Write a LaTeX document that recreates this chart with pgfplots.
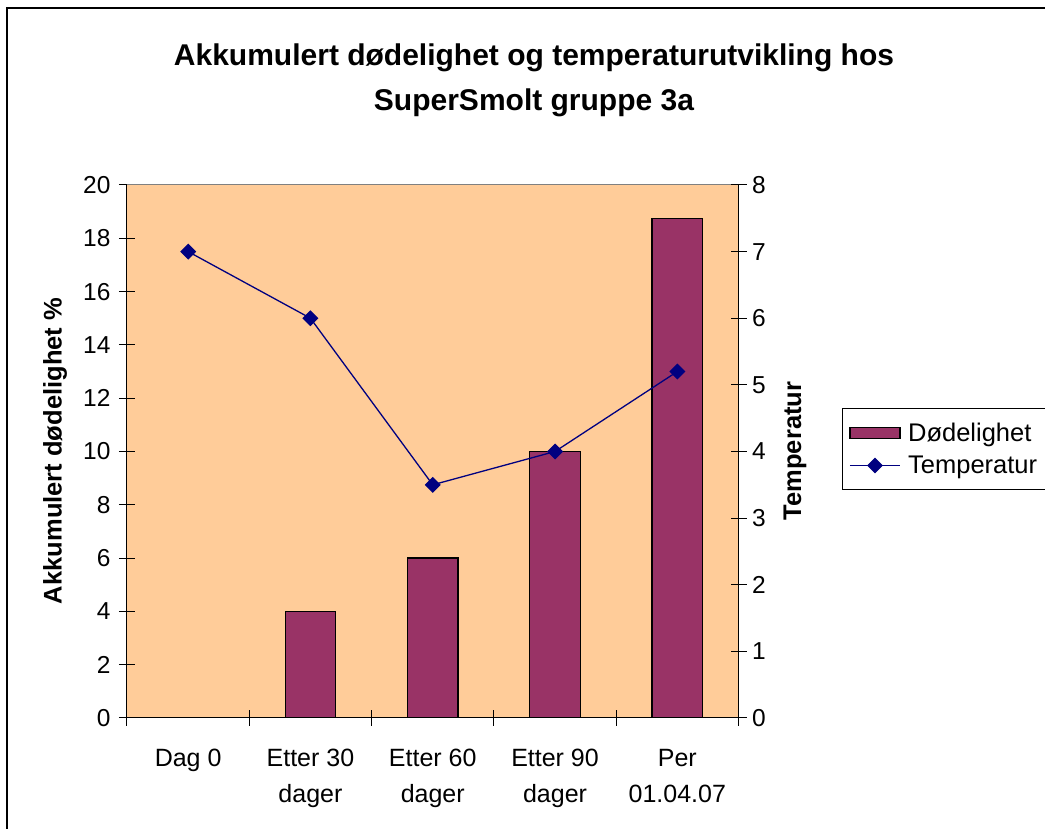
\documentclass[border=0pt]{standalone}
\usepackage{pgfplots}
\pgfplotsset{compat=1.18}
\usepackage{fontspec}
\setmainfont{Liberation Sans}
\definecolor{plotbg}{HTML}{FFCC99}
\definecolor{barc}{HTML}{993366}
\definecolor{linec}{HTML}{000080}
\pgfplotsset{
 barlegend/.style={legend image code/.code={\draw[##1] (0pt,-5.5pt) rectangle (50pt,5.5pt);}},
 linelegend/.style={legend image code/.code={\draw[mark repeat=2,mark phase=2,##1] plot coordinates {(0pt,0pt)(25pt,0pt)(50pt,0pt)};}},
}
\begin{document}
\begin{tikzpicture}
\useasboundingbox (-127pt,-111pt) rectangle (918pt,718pt);
\draw[line width=1.5pt] (-120pt,-130pt) -- (-120pt,710pt) -- (930pt,710pt);
\begin{axis}[
 scale only axis, width=611.5pt, height=533pt,
 xmin=-0.5, xmax=4.5, ymin=0, ymax=20,
 axis x line*=bottom, axis y line*=left,
 axis line style={black, line width=1pt},
 axis background/.style={fill=plotbg},
 xtick={0,1,2,3,4},
 xticklabels={Dag 0,{Etter 30\\dager},{Etter 60\\dager},{Etter 90\\dager},{Per\\01.04.07}},
 major x tick style={draw=none},
 minor xtick={-0.5,0.5,1.5,2.5,3.5,4.5},
 minor tick length=16pt, major tick length=16pt,
 tick align=center,
 ytick={0,2,...,20},
 tick style={black, line width=1pt},
 xticklabel style={font=\fontsize{25}{36}\selectfont, align=center, anchor=north, yshift=-20pt},
 yticklabel style={font=\fontsize{24.5}{28}\selectfont, xshift=-5pt},
 /pgf/number format/assume math mode=true,
]
\addplot[ybar, bar width=50.5pt, fill=barc, draw=black, line width=1.3pt] coordinates {(1,4)(2,6)(3,10)(4,18.75)};
\draw[gray, line width=1pt] (rel axis cs:0,1) -- (rel axis cs:1,1);
\end{axis}
\begin{axis}[
 scale only axis, width=611.5pt, height=533pt,
 xmin=-0.5, xmax=4.5, ymin=0, ymax=8,
 axis x line=none, axis y line*=right,
 axis line style={black, line width=1pt},
 ytick={0,1,...,8},
 tick align=center, major tick length=16pt,
 tick style={black, line width=1pt},
 yticklabel style={font=\fontsize{24.5}{28}\selectfont, xshift=2pt},
 /pgf/number format/assume math mode=true,
 legend style={at={(1.169,0.5816)}, anchor=north west, draw=black, line width=1pt, fill=white,
   font=\fontsize{25.5}{30}\selectfont, cells={anchor=west}, row sep=8pt,
   inner xsep=7pt, inner ysep=12pt, nodes={inner sep=2.5pt},
   /tikz/every odd column/.append style={column sep=5pt}},
]
\addlegendimage{barlegend, fill=barc, draw=black, line width=1.3pt}
\addlegendentry{Dødelighet}
\addplot[linelegend, linec, line width=1.3pt, mark=square*, mark options={rotate=45, fill=linec, solid}, mark size=5pt] coordinates {(0,7)(1,6)(2,3.5)(3,4)(4,5.2)};
\addlegendentry{Temperatur}
\end{axis}
\node[rotate=90, font=\bfseries\fontsize{25.5}{30}\selectfont] at (-72pt,267pt) {Akkumulert dødelighet \%};
\node[rotate=90, font=\bfseries\fontsize{25.5}{30}\selectfont] at (668pt,267pt) {Temperatur};
\node[align=center, font=\bfseries\fontsize{30}{45}\selectfont] at (407pt,638pt) {Akkumulert dødelighet og temperaturutvikling hos\\SuperSmolt gruppe 3a};
\end{tikzpicture}
\end{document}
